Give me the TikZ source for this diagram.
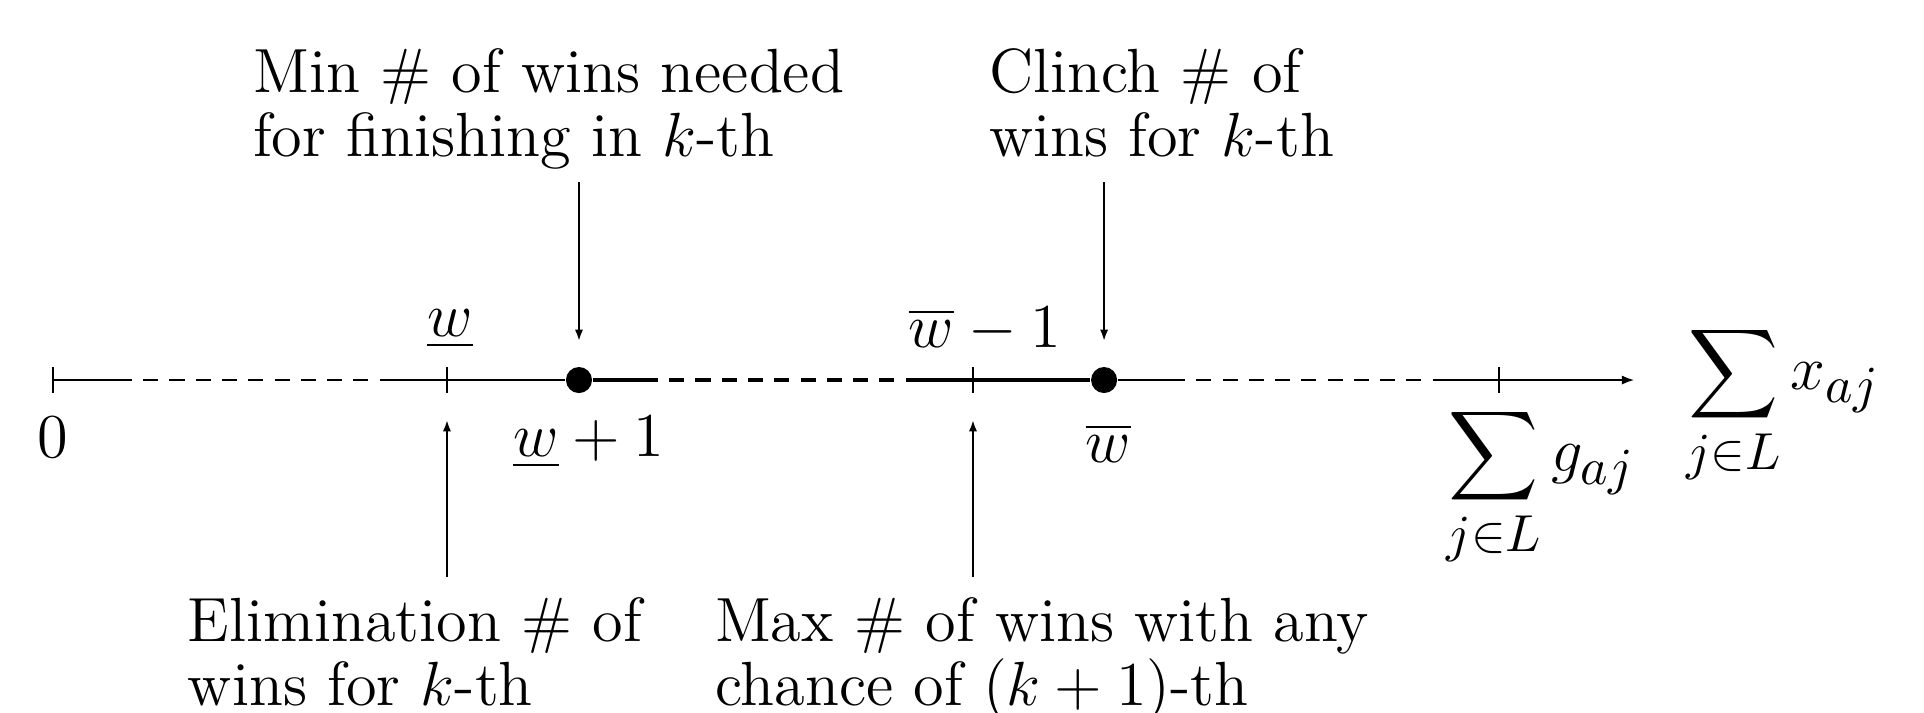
\documentclass[tikz,border=0pt]{standalone}
\usepackage{amsmath}
\usetikzlibrary{arrows.meta}
\DeclareMathSizes{12}{12}{10}{7}

\tikzset{
  axis/.style={line width=0.4pt},
  axisbold/.style={line width=0.6pt},
  gaps/.style={dash pattern=on 2.9pt off 2.15pt, dash phase=2.9pt},
  tickmark/.style={line width=0.45pt},
  pointer/.style={line width=0.4pt, -{Latex[length=2.2pt,width=1.6pt]}},
  lbl/.style={font=\fontsize{12}{12.3}\selectfont, inner sep=0pt},
  note/.style={lbl, align=left, anchor=north west},
  dot/.style={circle, fill, inner sep=0pt, minimum size=0.176cm},
}

\begin{document}
\begin{tikzpicture}
    \useasboundingbox (-0.358,-2.243) rectangle (12.642,2.568);

    % Break points of the win axis
    \coordinate (b1) at (0.534,0);
    \coordinate (b2) at (2.216,0);
    \coordinate (b3) at (4.088,0);
    \coordinate (b4) at (5.770,0);
    \coordinate (b5) at (7.649,0);
    \coordinate (b6) at (9.325,0);
    \coordinate (axend) at (10.684,0);

    % Tick marks
    \foreach \x/\n in {0/t0, 2.662/t1, 6.216/t2, 9.771/t3} {
        \coordinate (\n) at (\x,0);
        \draw[tickmark] (\x,0.088) -- (\x,-0.088);
    }

    % Marked win counts
    \node[dot] (wlo) at (3.554,0) {};
    \node[dot] (whi) at (7.102,0) {};

    % The axis itself
    \draw[axis] (t0) -- (b1);
    \draw[axis, gaps] (b1) -- (b2);
    \draw[axis] (b2) -- (wlo);
    \draw[axisbold] (wlo) -- (b3);
    \draw[axisbold, gaps] (b3) -- (b4);
    \draw[axisbold] (b4) -- (whi);
    \draw[axis] (whi) -- (b5);
    \draw[axis, gaps] (b5) -- (b6);
    \draw[axis, -{Latex[length=2.4pt,width=1.8pt]}] (b6) -- (axend);

    % Values on the axis
    \node[lbl] (zero) at (0,-0.39) {$0$};
    \node[lbl] (wlow) at (2.683,0.345) {$\underline{w}$};
    \node[lbl] (wlowp) at (3.62,-0.42) {$\underline{w}+1$};
    \node[lbl] (whim) at (6.297,0.338) {$\overline{w}-1$};
    \node[lbl] (whig) at (7.13,-0.426) {$\overline{w}$};
    \node[lbl] (sumg) at (10.054,-0.724) {$\displaystyle\sum_{j\in L} g_{aj}$};
    \node[lbl] (sumx) at (11.69,-0.17) {$\displaystyle\sum_{j\in L} x_{aj}$};

    % Explanations
    \node[note] (minwin) at (1.345,2.25) {Min \# of wins needed\\for finishing in $k$-th};
    \node[note] (clinch) at (6.318,2.25) {Clinch \# of\\wins for $k$-th};
    \node[note] (elim) at (0.905,-1.46) {Elimination \# of\\wins for $k$-th};
    \node[note] (maxwin) at (4.466,-1.46) {Max \# of wins with any\\chance of $(k+1)$-th};

    % Pointers to the axis
    \coordinate (minfoot) at (3.554,1.338);
    \coordinate (mintip) at (3.554,0.264);
    \coordinate (clfoot) at (7.102,1.338);
    \coordinate (cltip) at (7.102,0.264);
    \coordinate (elfoot) at (2.662,-1.331);
    \coordinate (eltip) at (2.662,-0.27);
    \coordinate (mxfoot) at (6.216,-1.331);
    \coordinate (mxtip) at (6.216,-0.27);
    \draw[pointer] (minfoot) -- (mintip);
    \draw[pointer] (clfoot) -- (cltip);
    \draw[pointer] (elfoot) -- (eltip);
    \draw[pointer] (mxfoot) -- (mxtip);
\end{tikzpicture}
\end{document}
